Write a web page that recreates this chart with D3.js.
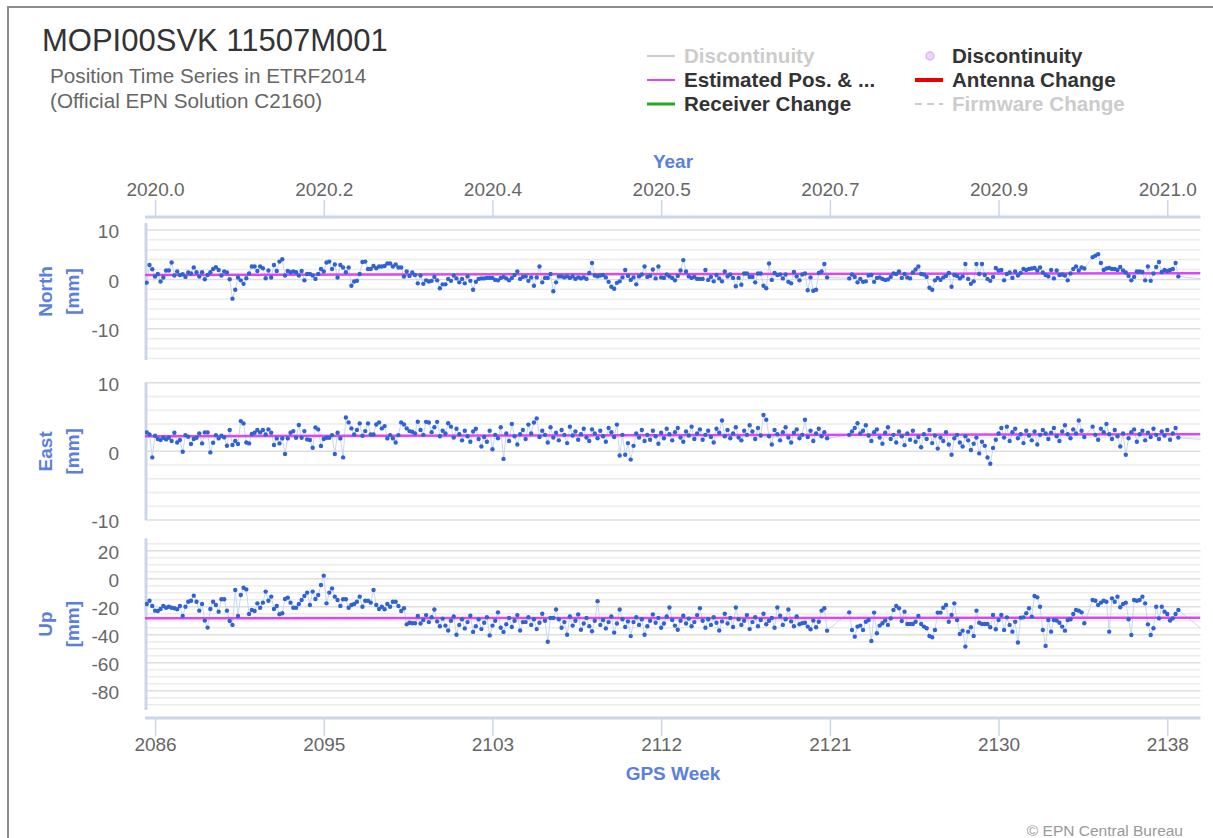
<!DOCTYPE html>
<html><head><meta charset="utf-8">
<script src="https://cdn.jsdelivr.net/npm/d3@7"></script>
<style>body{margin:0;background:#fff;} svg{display:block;font-family:"Liberation Sans",Arial,Helvetica,sans-serif;}</style>
</head><body><svg id="c" width="1213" height="838"></svg>
<script>
// ---------------- DATA ----------------
const firstSampleWeek = 2086;          // GPS week of the first daily sample (day 0)
const yearTicks = [2020.0, 2020.1667, 2020.3333, 2020.5, 2020.6667, 2020.8333, 2021.0];
const yearTickLabels = ["2020.0","2020.2","2020.4","2020.5","2020.7","2020.9","2021.0"];
const weekTickLabels = ["2086","2095","2103","2112","2121","2130","2138"];
const panelNames = ["North","East","Up"];
const panelDomains = [[-16.3, 11.4], [-10, 10], [-93.8, 28.9]];
const majorTicks = [[10, 0, -10], [10, 0, -10], [20, 0, -20, -40, -60, -80]];
const minorStep = [2, 2, 5];
const estimatedNorth = [0.9, 1.25];   // estimated position, start / end of window
const estimatedEast = [2.2, 2.5];
const estimatedUp = [-28.2, -27.9];
const legendLeft = ["Discontinuity", "Estimated Pos. & ...", "Receiver Change"];
const legendRight = ["Discontinuity", "Antenna Change", "Firmware Change"];

const northValues = [
-0.65,2.9,2.05,0.57,1.1,-0.44,0.37,1.8,1.8,3.4,
0.77,1.58,0.9,1.05,0.5,1.38,1.2,2.4,1.45,0.57,
1.45,0.04,0.9,1.45,2.1,2.45,1.9,0.77,1.58,1.38,
0.04,-3.9,-2.1,0.37,-0.2,-0.9,0.24,1.2,2.6,2.6,
1.7,2.6,2.26,0.24,1.8,0.37,2.9,1.7,3.6,4.08,
0.77,1.7,1.45,1.58,1.45,0.77,1.7,-0.2,1.1,1.1,
0.77,0.1,1.1,2.1,1.58,3.4,3.6,2.1,3.0,0.37,
2.9,2.4,1.45,2.4,-1.3,-0.44,-0.3,1.1,3.5,3.6,
2.1,2.1,2.7,2.26,2.6,2.6,2.7,3.2,3.2,2.6,
3.0,2.4,2.4,0.57,1.58,0.7,1.38,0.9,-0.8,0.77,
-0.9,-0.2,-0.44,-0.3,0.5,-0.2,-1.8,-1.0,-1.0,0.1,
-0.3,0.8,0.2,-0.6,0.1,-0.8,0.6,-0.3,-2.1,-0.5,
0.1,0.2,0.2,0.3,0.3,0.3,-0.1,-0.2,0.3,0.5,
0.2,-0.2,0.3,0.9,1.6,0.1,0.5,0.6,-0.3,0.4,
-1.3,0.4,2.6,-0.6,0.3,0.3,1.1,-2.4,-0.6,0.6,
0.6,0.4,0.6,0.3,0.6,0.1,0.4,0.2,0.4,0.1,
1.3,3.3,0.8,0.6,0.8,0.9,0.4,-0.5,-1.5,-1.9,
-0.7,-0.4,0.4,1.9,0.7,-0.1,0.4,-1.0,0.6,1.0,
2.6,0.5,0.7,2.0,0.2,2.6,0.4,0.3,1.0,0.6,
0.3,-0.2,0.7,1.8,3.9,1.6,0.6,0.3,0.5,0.1,
0.1,0.1,1.9,-0.1,0.5,-0.4,0.9,0.2,-0.4,1.6,
0.6,1.0,0.3,-1.4,0.3,-1.1,1.2,1.2,0.5,0.5,
-0.6,1.2,1.2,-1.3,-1.8,3.2,-0.1,1.3,0.9,1.0,
0.2,1.0,-0.5,-0.8,1.5,0.6,-0.2,1.0,1.2,-2.2,
0.4,-2.3,-2.1,1.3,1.6,3.1,0.4,null,null,null,
null,null,null,null,0.2,1.0,0.5,-0.6,0.1,-0.5,
-0.4,0.8,0.9,-0.5,0.3,0.4,0.1,-0.1,0.0,0.5,
1.2,1.1,1.6,0.3,1.1,0.4,0.2,1.4,2.0,2.6,
1.1,1.0,0.5,-1.7,-2.1,-0.2,0.3,-0.1,0.4,0.7,
1.3,-1.5,0.9,0.7,0.2,0.6,3.1,0.1,-0.9,-0.4,
3.1,1.1,3.1,0.9,0.1,-0.3,0.5,2.3,1.8,1.9,
-0.2,1.1,1.4,0.3,1.6,0.8,1.3,2.1,1.9,2.1,
2.2,2.3,1.8,2.4,1.4,0.9,0.6,1.9,0.2,1.8,
0.9,1.0,0.8,-0.2,1.2,2.1,2.6,1.8,2.4,2.2,
null,null,4.5,4.8,5.1,3.3,1.9,2.2,2.3,2.1,
2.1,1.9,2.5,1.8,1.4,0.7,-0.2,0.5,1.6,1.6,
1.5,-0.2,2.6,-0.3,1.2,2.5,3.5,1.5,1.9,1.7,
1.9,2.1,3.3,0.6,null,null,null,null,null,null,
null,null,null,null,null,-0.1
];

const eastValues = [
2.76,2.47,-0.88,2.28,1.79,1.65,1.98,1.74,1.98,1.5,
2.71,1.3,1.65,-0.05,2.37,2.13,1.06,1.79,1.98,2.62,
1.16,2.76,2.76,-0.15,1.26,2.37,1.89,2.28,2.03,0.82,
3.1,0.92,1.5,1.06,4.41,4.07,1.3,1.16,2.52,2.71,
3.1,2.76,3.1,2.47,3.2,2.71,0.92,1.89,1.16,1.89,
-0.39,1.89,2.71,2.95,1.98,3.83,1.98,2.95,1.74,1.65,
0.53,3.49,3.2,0.77,1.79,1.98,1.98,2.37,-0.39,2.71,
1.89,-0.88,4.94,4.22,3.34,2.47,3.1,4.07,2.28,2.95,
4.07,2.47,2.47,3.92,4.22,3.34,3.68,1.89,2.37,1.89,
1.3,2.37,4.22,3.92,3.34,2.95,2.85,2.62,4.31,3.1,
2.4,4.3,4.2,2.8,3.5,4.3,2.2,3.0,2.6,4.1,
3.6,2.0,3.3,2.5,1.6,3.0,2.2,1.4,2.9,3.3,
1.8,0.7,2.1,1.4,3.0,0.3,2.4,1.9,3.5,-1.1,
2.6,1.5,4.0,2.2,1.0,2.5,3.1,1.8,3.9,2.6,
4.2,4.8,2.1,3.0,2.4,1.3,3.5,2.0,2.7,1.6,
3.1,2.4,1.2,3.6,2.3,2.9,1.7,2.5,3.3,2.0,
1.5,3.2,2.6,1.9,3.0,2.2,1.4,3.4,2.8,2.1,
3.9,-0.6,2.4,-0.5,1.2,-1.2,0.8,2.6,2.0,3.1,
1.5,2.4,1.7,3.0,2.2,1.1,2.7,1.9,3.3,2.5,
1.6,2.8,3.4,2.0,1.4,2.9,2.3,3.6,1.8,2.6,
3.2,1.7,2.4,3.0,2.1,1.3,3.3,2.7,4.5,2.2,
3.1,1.9,2.6,3.5,2.0,1.6,3.0,2.4,3.8,2.9,
1.8,3.4,2.3,5.3,4.6,2.2,1.0,3.1,2.5,1.6,
2.8,3.5,2.0,1.3,2.7,3.2,1.9,2.4,4.6,2.1,
3.0,1.5,2.6,3.3,2.2,2.8,1.9,null,null,null,
null,null,null,null,2.4,2.9,3.4,4.1,2.6,3.0,
3.8,2.3,1.5,2.8,3.2,2.0,1.1,2.7,3.5,1.8,
2.4,1.3,2.9,2.2,0.9,2.6,1.7,3.0,1.4,2.1,
0.6,2.5,1.8,3.1,1.2,2.3,0.4,2.0,1.5,2.8,
1.0,-0.5,1.9,2.4,1.3,0.7,2.2,1.6,0.2,1.1,
2.0,-0.3,1.4,0.8,-0.9,-1.8,0.5,1.7,2.6,3.4,
2.0,3.6,1.5,2.8,3.3,1.9,2.5,1.2,3.0,2.3,
1.6,2.9,1.0,2.4,3.1,2.6,1.8,2.7,3.4,2.2,
1.5,2.9,3.8,2.5,1.9,3.2,2.6,4.5,3.0,2.1,
null,null,3.6,2.4,1.7,3.3,2.8,4.0,2.5,1.8,
3.1,2.2,0.7,2.6,-0.5,1.9,2.8,3.2,1.4,2.5,
3.0,1.6,2.7,2.1,3.3,2.4,1.8,2.9,2.3,3.1,
1.7,2.6,3.4,2.0,null,null,null,null,null,null,
null,null,null,null,null,1.6
];

const upValues = [
-18.0,-15.7,-19.5,-22.8,-23.0,-21.6,-19.5,-20.7,-20.0,-20.7,
-21.1,-21.8,-19.5,-26.6,-20.0,-16.4,-15.7,-12.1,-16.4,-22.8,
-18.0,-29.9,-34.9,-21.6,-16.4,-18.8,-23.5,-14.7,-14.7,-22.8,
-30.2,-33.0,-8.0,-26.6,-11.6,-6.4,-7.6,-25.2,-22.3,-23.0,
-17.6,-20.7,-17.1,-9.2,-15.7,-12.8,-21.6,-19.5,-25.4,-24.7,
-14.5,-13.5,-17.1,-20.7,-20.7,-18.0,-15.2,-12.3,-9.9,-18.8,
-9.2,-14.5,-11.6,-4.5,2.2,-17.6,-9.9,-6.9,-12.8,-15.2,
-19.5,-14.7,-14.7,-20.7,-18.8,-18.0,-16.4,-12.8,-20.0,-15.7,
-15.7,-17.1,-8.0,-18.8,-21.6,-20.0,-21.8,-18.0,-20.0,-16.4,
-16.4,-19.5,-23.0,-21.1,-32.6,-31.4,-31.8,-31.8,-26.6,-32.0,
-29.5,-26.0,-31.0,-27.5,-22.0,-30.5,-34.0,-28.5,-33.5,-37.0,
-30.0,-27.0,-40.0,-33.0,-29.0,-35.5,-31.0,-26.5,-38.0,-34.0,
-29.0,-36.0,-31.5,-27.5,-40.5,-33.5,-30.0,-24.0,-35.0,-38.0,
-32.5,-28.0,-34.5,-30.0,-26.0,-37.0,-31.0,-31.0,-27.5,-33.0,
-29.0,-36.0,-31.5,-25.0,-30.0,-45.0,-28.0,-28.0,-22.0,-29.0,
-35.0,-31.0,-40.0,-27.0,-33.5,-30.0,-25.5,-36.5,-32.0,-28.0,
-34.0,-37.5,-30.0,-16.0,-33.0,-29.5,-35.5,-31.0,-27.0,-38.5,
-32.0,-22.0,-29.0,-34.5,-30.5,-41.0,-31.0,-27.5,-33.0,-29.0,
-40.0,-34.0,-30.0,-25.5,-31.5,-28.0,-35.0,-32.0,-27.0,-20.5,
-29.5,-33.5,-36.5,-30.0,-26.5,-32.0,-28.5,-34.0,-31.0,-26.0,
-21.0,-30.0,-35.0,-29.0,-33.0,-27.5,-31.5,-37.0,-30.5,-25.0,
-32.0,-28.0,-34.5,-20.5,-29.0,-33.0,-30.0,-26.0,-36.0,-31.0,
-27.5,-34.0,-29.5,-25.0,-32.5,-30.0,-28.0,-35.0,-20.5,-26.5,
-33.0,-29.0,-22.0,-30.5,-34.0,-27.0,-32.5,-31.8,-31.4,-34.2,
-36.1,-29.9,-34.7,-30.7,-22.8,-21.1,-37.1,null,null,null,
null,null,null,null,-24.0,-36.6,-41.4,-34.2,-33.5,-36.6,
-30.7,-29.5,-44.5,-24.2,-39.0,-33.5,-31.8,-29.9,-33.0,-28.3,
-22.3,-19.5,-21.1,-30.2,-23.5,-32.3,-32.3,-32.3,-30.7,-26.6,
-32.3,-34.2,-35.4,-40.9,-41.8,-36.6,-24.2,-24.2,-20.7,-18.8,
-30.7,-25.9,-17.6,-29.5,-39.5,-37.1,-48.5,-37.8,-34.7,-40.9,
-22.8,-31.4,-32.3,-32.3,-32.3,-34.7,-25.9,-36.1,-29.5,-25.9,
-36.6,-27.6,-33.0,-37.8,-30.7,-45.6,-27.8,-27.6,-24.7,-21.1,
-27.1,-12.3,-13.3,-20.0,-36.6,-48.0,-29.5,-37.8,-29.5,-29.9,
-31.4,-34.2,-37.1,-29.5,-29.0,-25.2,-22.3,-22.8,-24.0,-31.8,
null,null,-15.2,-15.7,-18.8,-17.1,-15.7,-16.4,-37.8,-14.0,
-16.4,-12.8,-20.4,-18.0,-17.1,-29.0,-40.2,-15.2,-15.7,-15.2,
-12.8,-17.6,-32.6,-40.2,-35.4,-20.0,-28.3,-20.0,-23.5,-25.2,
-29.9,-28.3,-25.2,-22.3,null,null,null,null,null,null,
null,null,null,null,null,-41.7
];

// ---------------- DRAWING ----------------
const svg = d3.select("#c");
const blue = "#5b7fe0", textGrey = "#666666", axisCol = "#ccd6eb";
const plotLeft = 145, plotRight = 1200.5;

// frame
svg.append("rect").attr("x", 8).attr("y", 7).attr("width", 1230).attr("height", 850)
  .attr("fill", "none").attr("stroke", "#8d8d8d").attr("stroke-width", 2);

// titles
svg.append("text").attr("x", 42).attr("y", 51).attr("font-size", 31).attr("fill", "#333")
  .text("MOPI00SVK 11507M001");
svg.append("text").attr("x", 50).attr("y", 83).attr("font-size", 20.7).attr("fill", textGrey)
  .text("Position Time Series in ETRF2014");
svg.append("text").attr("x", 50).attr("y", 108).attr("font-size", 20.7).attr("fill", textGrey)
  .text("(Official EPN Solution C2160)");

// legend
const legRows = [56, 80, 104];
const leftSym = [{c:"#cccccc", w:2}, {c:"#dd44ff", w:2}, {c:"#22aa22", w:3}];
const leftTxt = ["#cccccc", "#333333", "#333333"];
const rightTxt = ["#333333", "#333333", "#cccccc"];
legendLeft.forEach((t, i) => {
  svg.append("line").attr("x1", 647).attr("x2", 675).attr("y1", legRows[i]).attr("y2", legRows[i])
    .attr("stroke", leftSym[i].c).attr("stroke-width", leftSym[i].w);
  svg.append("text").attr("x", 684).attr("y", legRows[i] + 7).attr("font-size", 20.6)
    .attr("font-weight", "bold").attr("fill", leftTxt[i]).text(t);
});
svg.append("circle").attr("cx", 930).attr("cy", legRows[0]).attr("r", 4)
  .attr("fill", "#ecd6fb").attr("stroke", "#dcb6f6").attr("stroke-width", 1.5);
svg.append("line").attr("x1", 915).attr("x2", 943).attr("y1", legRows[1]).attr("y2", legRows[1])
  .attr("stroke", "#ee0000").attr("stroke-width", 4);
svg.append("line").attr("x1", 915).attr("x2", 943).attr("y1", legRows[2]).attr("y2", legRows[2])
  .attr("stroke", "#cccccc").attr("stroke-width", 2).attr("stroke-dasharray", "7,5");
legendRight.forEach((t, i) => {
  svg.append("text").attr("x", 952).attr("y", legRows[i] + 7).attr("font-size", 20.6)
    .attr("font-weight", "bold").attr("fill", rightTxt[i]).text(t);
});

// x scale (GPS week)
const yearStartWeek = firstSampleWeek + 3 / 7;      // 2020-01-01 in GPS weeks
const yearToWeek = y => yearStartWeek + (y - 2020) * 366 / 7;
const x = d3.scaleLinear().domain([2085.91, 2140.43]).range([plotLeft, plotRight]);
const tickWeeks = yearTicks.map(yearToWeek);

// top axis
const topAxis = d3.axisTop(x).tickValues(tickWeeks).tickSize(17).tickSizeOuter(0)
  .tickFormat((d, i) => yearTickLabels[i]);
const gTop = svg.append("g").attr("transform", "translate(0,217)").call(topAxis);
gTop.select(".domain").remove();
gTop.selectAll(".tick line").attr("stroke", axisCol).attr("stroke-width", 1.5);
gTop.selectAll(".tick text").attr("font-size", 19).attr("fill", textGrey)
  .attr("font-family", "Liberation Sans, Arial, sans-serif").attr("y", -21);
svg.append("line").attr("x1", plotLeft).attr("x2", plotRight).attr("y1", 217).attr("y2", 217)
  .attr("stroke", axisCol).attr("stroke-width", 3);
svg.append("text").attr("x", 673).attr("y", 168).attr("text-anchor", "middle")
  .attr("font-size", 19).attr("font-weight", "bold").attr("fill", blue).text("Year");

// bottom axis
const botAxis = d3.axisBottom(x).tickValues(tickWeeks).tickSize(18).tickSizeOuter(0)
  .tickFormat((d, i) => weekTickLabels[i]);
const gBot = svg.append("g").attr("transform", "translate(0,718)").call(botAxis);
gBot.select(".domain").remove();
gBot.selectAll(".tick line").attr("stroke", axisCol).attr("stroke-width", 1.5);
gBot.selectAll(".tick text").attr("font-size", 19).attr("fill", textGrey)
  .attr("font-family", "Liberation Sans, Arial, sans-serif").attr("y", 20);
svg.append("line").attr("x1", plotLeft).attr("x2", plotRight).attr("y1", 718).attr("y2", 718)
  .attr("stroke", axisCol).attr("stroke-width", 3);
svg.append("text").attr("x", 673).attr("y", 780).attr("text-anchor", "middle")
  .attr("font-size", 19).attr("font-weight", "bold").attr("fill", blue).text("GPS Week");

// panels
const panelRanges = [[360, 223], [520, 382.7], [710, 538.3]];
const seriesValues = [northValues, eastValues, upValues];
const estimates = [estimatedNorth, estimatedEast, estimatedUp];
const defs = svg.append("defs");

panelNames.forEach((name, p) => {
  const [r0, r1] = panelRanges[p];
  const y = d3.scaleLinear().domain(panelDomains[p]).range([r0, r1]);
  const g = svg.append("g");
  const clipId = "clip" + p;
  defs.append("clipPath").attr("id", clipId).append("rect")
    .attr("x", plotLeft).attr("y", r1 - 4).attr("width", plotRight - plotLeft).attr("height", r0 - r1 + 8);

  // grid
  const [dmin, dmax] = panelDomains[p];
  const step = minorStep[p];
  const minor = d3.range(Math.ceil(dmin / step) * step, dmax + 1e-9, step);
  g.selectAll(".minor").data(minor).join("line")
    .attr("x1", plotLeft).attr("x2", plotRight).attr("y1", d => y(d)).attr("y2", d => y(d))
    .attr("stroke", d => majorTicks[p].includes(d) ? "#dedede" : "#ececec").attr("stroke-width", 1.5);

  // y tick labels
  const ax = d3.axisLeft(y).tickValues(majorTicks[p]).tickSize(0).tickPadding(0).tickFormat(d => String(d));
  const ga = g.append("g").attr("transform", "translate(119,0)").call(ax);
  ga.select(".domain").remove();
  ga.selectAll(".tick text").attr("font-size", 19).attr("fill", textGrey)
    .attr("font-family", "Liberation Sans, Arial, sans-serif").attr("dy", "0.42em").attr("x", 0);

  // vertical axis line
  g.append("line").attr("x1", plotLeft + 1).attr("x2", plotLeft + 1).attr("y1", r1).attr("y2", r0)
    .attr("stroke", axisCol).attr("stroke-width", 3);

  // axis title
  const cy = (r0 + r1) / 2;
  g.append("text").attr("transform", `translate(45,${cy}) rotate(-90)`).attr("text-anchor", "middle")
    .attr("dominant-baseline", "central").attr("font-size", 19).attr("font-weight", "bold")
    .attr("fill", blue).text(name);
  g.append("text").attr("transform", `translate(72,${cy}) rotate(-90)`).attr("text-anchor", "middle")
    .attr("dominant-baseline", "central").attr("font-size", 19).attr("font-weight", "bold")
    .attr("fill", blue).text("[mm]");

  // data
  const pts = seriesValues[p].map((v, i) => ({w: firstSampleWeek + i / 7, v}))
    .filter(d => d.v !== null);
  const cg = g.append("g").attr("clip-path", `url(#${clipId})`);
  cg.append("path").datum(pts)
    .attr("d", d3.line().x(d => x(d.w)).y(d => y(d.v)))
    .attr("fill", "none").attr("stroke", "#c8d6f2").attr("stroke-width", 1);
  const est = estimates[p];
  cg.append("line").attr("x1", x.range()[0]).attr("x2", x.range()[1])
    .attr("y1", y(est[0])).attr("y2", y(est[1]))
    .attr("stroke", "#dc46f7").attr("stroke-width", 2.5);
  cg.selectAll("circle").data(pts).join("circle")
    .attr("cx", d => x(d.w)).attr("cy", d => y(d.v)).attr("r", 2.2).attr("fill", "#2f63d3");
});

svg.append("text").attr("x", 1183).attr("y", 836).attr("text-anchor", "end")
  .attr("font-size", 15.5).attr("fill", "#999").text("© EPN Central Bureau");
</script></body></html>
